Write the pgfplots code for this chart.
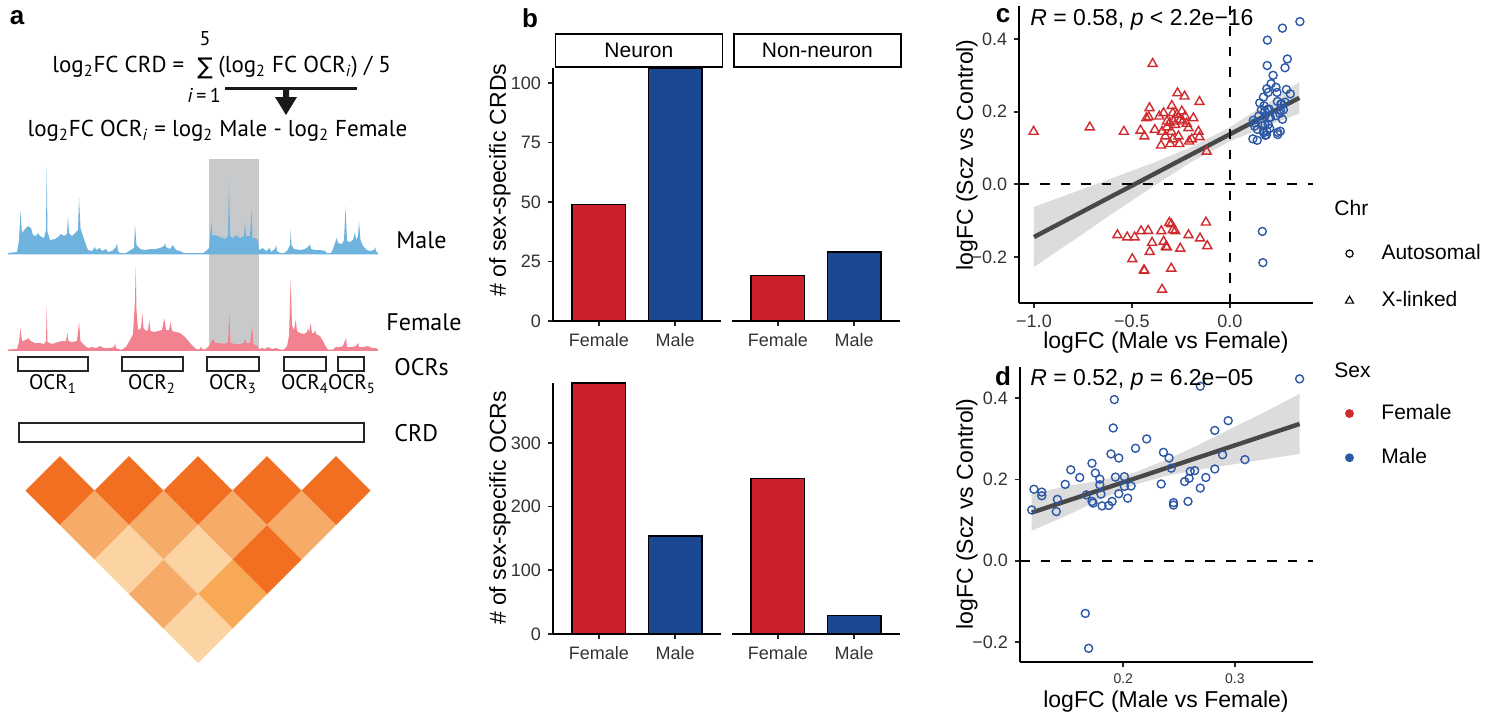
\documentclass[border=0pt]{standalone}
\usepackage{fontspec}
\setmainfont{Liberation Sans}
\newfontfamily\myriad{PT Sans}
\newfontfamily\symfont{DejaVu Sans}
\usepackage{pgfplots}
\usepackage{pgfplotstable}
\pgfplotsset{compat=1.18}

\definecolor{barred}{HTML}{C9202A}
\definecolor{barblue}{HTML}{1B4793}
\definecolor{trired}{HTML}{CF2A2E}
\definecolor{circblue}{HTML}{2C58A6}
\definecolor{trackblue}{HTML}{6DB3DD}
\definecolor{trackpink}{HTML}{F2828F}
\definecolor{shadegrey}{HTML}{C8C9CB}
\definecolor{hmdark}{HTML}{F26F21}
\definecolor{hmmid}{HTML}{F6AB68}
\definecolor{hmmidb}{HTML}{F7A956}
\definecolor{hmlight}{HTML}{FCD3A3}
\definecolor{bandgrey}{HTML}{D6D6D6}
\definecolor{fitgrey}{HTML}{484848}

\pgfplotsset{
  ggaxis/.style={
    scale only axis,
    axis x line*=bottom, axis y line*=left,
    tick align=outside, major tick length=2.5pt,
    axis line style={line width=0.9pt, black},
    tick style={line width=0.9pt, black!85},
    tick label style={font=\fontsize{9}{10}\selectfont, text=black!80},
    /pgf/number format/assume math mode=true,
    clip=false,
  },
  barpanel/.style={ggaxis, width=84pt, xmin=0.4, xmax=2.6, ymin=0,
    xtick={1,2}, xticklabels={Female,Male}},
  bars/.style={ybar, bar width=0.7, bar shift=0pt, draw=black, line width=0.6pt},
  gglegend/.style={legend style={draw=none, fill=none, anchor=north west,
    font=\fontsize{10.5}{12}\selectfont, row sep=#1,
    /tikz/every odd column/.append style={column sep=12pt}},
    legend cell align=left},
}

% autosomal OCR/CRD points (Male-biased)
\pgfplotstableread{
x y
0.118 0.125
0.120 0.176
0.127 0.169
0.127 0.160
0.140 0.121
0.141 0.151
0.148 0.188
0.153 0.224
0.161 0.205
0.167 0.162
0.172 0.240
0.172 0.146
0.173 0.142
0.175 0.216
0.179 0.201
0.179 0.187
0.180 0.164
0.181 0.135
0.187 0.136
0.189 0.263
0.190 0.146
0.191 0.327
0.192 0.397
0.193 0.206
0.196 0.253
0.196 0.165
0.201 0.207
0.201 0.183
0.204 0.154
0.207 0.184
0.211 0.277
0.221 0.300
0.234 0.189
0.236 0.267
0.241 0.253
0.243 0.228
0.245 0.143
0.245 0.137
0.255 0.195
0.258 0.146
0.259 0.203
0.260 0.220
0.264 0.222
0.269 0.179
0.269 0.430
0.274 0.205
0.282 0.321
0.282 0.226
0.289 0.261
0.294 0.345
0.309 0.249
0.358 0.448
0.166 -0.130
0.169 -0.216
}\autosomal

% X-linked points (Female-biased)
\pgfplotstableread{
x y
-1.002 0.145
-0.715 0.157
-0.541 0.145
-0.394 0.332
-0.456 0.148
-0.436 0.132
-0.410 0.210
-0.426 0.182
-0.414 0.185
-0.383 0.150
-0.360 0.187
-0.351 0.107
-0.338 0.196
-0.329 0.132
-0.321 0.173
-0.307 0.169
-0.304 0.111
-0.299 0.145
-0.291 0.196
-0.287 0.173
-0.279 0.164
-0.270 0.192
-0.267 0.251
-0.262 0.132
-0.258 0.111
-0.253 0.178
-0.245 0.201
-0.240 0.173
-0.231 0.242
-0.228 0.187
-0.220 0.167
-0.211 0.155
-0.208 0.118
-0.194 0.124
-0.186 0.182
-0.160 0.145
-0.155 0.227
-0.155 0.130
-0.118 0.090
-0.291 0.124
-0.321 0.157
-0.346 0.145
-0.296 0.216
-0.574 -0.140
-0.524 -0.146
-0.486 -0.146
-0.453 -0.129
-0.417 -0.128
-0.397 -0.161
-0.409 -0.186
-0.498 -0.206
-0.439 -0.237
-0.436 -0.238
-0.350 -0.129
-0.338 -0.158
-0.326 -0.172
-0.321 -0.174
-0.309 -0.106
-0.299 -0.110
-0.291 -0.126
-0.279 -0.129
-0.299 -0.232
-0.346 -0.290
-0.253 -0.177
-0.211 -0.140
-0.152 -0.149
-0.122 -0.105
-0.115 -0.170
}\xlinked

\begin{document}
\begin{tikzpicture}
% pixel grid of the reference, 1 px = 0.5pt
\begin{scope}[x=0.5pt,y=-0.5pt]
  \path[use as bounding box] (0,0) rectangle (1494,713);
  \coordinate (pa) at (0,0);
  \coordinate (pb1) at (553,321);
  \coordinate (pb2) at (732,321);
  \coordinate (pb3) at (553,634);
  \coordinate (pb4) at (732,634);
  \coordinate (pc) at (1019.3,303.3);
  \coordinate (pd) at (1020,661.7);
\end{scope}

%% ---- panel a: schematic, axis in pixel units
\begin{axis}[at={(pa)}, anchor=north west, scale only axis,
  width=210pt, height=356.5pt, xmin=0, xmax=420, ymin=0, ymax=713,
  y dir=reverse, axis lines=none, clip=false]
% highlighted OCR3
\addplot[fill=shadegrey, draw=none] coordinates {(209.3,159.3)(259.3,159.3)(259.3,349.3)(209.3,349.3)} -- cycle;
% male track
\addplot[fill=trackblue, draw=none] coordinates {
(8,253)(17,252)(19,240)(20.5,211)(22,233)(25,229)(28,226)(31,228)(33,235)(36,236)(38,233)(40,236)(44,238)(46,230)(46.7,167)(47.5,232)(50,240)(55,239)(58,237)(61,234)(64,236)(67,234)(68,216)(69,233)(72,236)(75,233)(78,230)(79,198)(80.5,228)(83,236)(86,245)(88,250)(92,251)(95,247)(96,250)(100,248)(102,251)(106,249)(108,252)(112,251)(116,247)(117,243)(118,251)(120,253)
(126,253)(129,251)(134,248)(135,225)(136.5,245)(140,249)(145,250)(150,249)(155,249)(160,248)(164,246)(165,243)(166,247)(170,249)(173,245)(174,247)(176,250)(180,251)(184,253)
(203,253)(206,251)(209,248)(210,236)(211.5,222)(212.5,236)(215,235)(220,237)(225,239)(228,236)(229,183)(230.2,236)(233,238)(236,235)(240,238)(244,236)(245,222)(246,236)(250,236)(251.5,210)(252.5,238)(255,238)(258,240)(259,250)(263,248)(266,251)(270,248)(271,252)(275,249)(276,245)(277,251)(280,253)
(284,253)(287,251)(290,245)(290.7,230)(291.5,245)(294,249)(300,250)(305,249)(309,246)(310,244)(311,249)(315,250)(320,250)(325,251)(327,253)
(331,253)(333,249)(335,243)(336.7,238)(338,243)(342,244)(344,240)(345.5,207)(347,241)(350,242)(353,240)(355,232)(356,240)(358,236)(359,222)(360.5,240)(363,246)(367,250)(370,251)(374,250)(375,247)(376,251)(378,253)
(378,254.3)(8,254.3)} -- cycle;
% female track
\addplot[fill=trackpink, draw=none] coordinates {
(8,349.5)(17,349)(19,342)(20.5,328)(22,341)(26,340)(28,338)(31,341)(35,343)(40,343)(44,344)(46,341)(46.7,307)(47.5,342)(52,344)(58,342)(62,341)(66,341)(67.5,333)(68.5,341)(72,342)(77,341)(79,322)(80.5,341)(84,345)(88,348)(92,347)(96,348)(100,346)(104,348)(110,348)(114,347)(115,343)(116,348)(120,349.5)
(122,349.5)(126,347)(130,340)(133,334)(135,300)(135.7,267)(136.5,310)(138,330)(141,328)(142.3,313)(143.5,328)(146,331)(148,330)(149.3,320)(150.5,331)(154,332)(158,331)(162,330)(164.3,318)(166,330)(169,330)(170.7,322)(172,331)(176,332)(180,333)(185,337)(190,343)(194,347)(197,349.5)(200,349)(201,346)(202,349)
(205,349.5)(209,346)(211,342)(213.3,339)(215,343)(220,343)(225,344)(228,342)(229.3,313)(230.5,343)(235,344)(240,344)(244,343)(245,338)(246,343)(250,343)(252.3,327)(253.5,344)(257,346)(259,349)(262,348)(265,349)(268,347)(272,349)(276,348)(280,349.5)
(284,349.5)(287,346)(289,336)(290.7,280)(292,325)(294,330)(295.7,320)(297,331)(300,333)(304,334)(307,332)(308,328)(309,333)(310.7,323)(312,333)(314,333)(315,330)(316,334)(320,336)(323,341)(326,347)(328,349.5)
(333,349.5)(336,347)(340,347)(343,346)(346,338)(347,347)(352,347)(356,346)(358,343)(359,347)(364,347)(368,346)(372,348)(376,348)(378,349.5)
(378,350.8)(8,350.8)} -- cycle;
% OCR boxes and CRD box
\addplot[draw=black!85, line width=1pt] coordinates {(18.3,357.3)(87.7,357.3)(87.7,371)(18.3,371)} -- cycle;
\addplot[draw=black!85, line width=1pt] coordinates {(122.3,357.3)(182.7,357.3)(182.7,371)(122.3,371)} -- cycle;
\addplot[draw=black!85, line width=1pt] coordinates {(207.3,357.3)(259.3,357.3)(259.3,371)(207.3,371)} -- cycle;
\addplot[draw=black!85, line width=1pt] coordinates {(284,357.3)(326,357.3)(326,371)(284,371)} -- cycle;
\addplot[draw=black!85, line width=1pt] coordinates {(337.7,357.3)(364,357.3)(364,371)(337.7,371)} -- cycle;
\addplot[draw=black!85, line width=1pt] coordinates {(19,423.3)(364,423.3)(364,442.3)(19,442.3)} -- cycle;
% formula bar and arrow
\addplot[draw=black!90, line width=1.5pt] coordinates {(225,88.3)(357,88.3)};
\addplot[fill=black!90, draw=none] coordinates {(283,89)(289,89)(289,97)(297,97)(286,115)(275,97)(283,97)} -- cycle;
% interaction heatmap (diamonds)
\addplot[fill=hmdark, draw=none] coordinates {(25.5,490.5)(60,456)(94.5,490.5)(60,525)} -- cycle;
\addplot[fill=hmdark, draw=none] coordinates {(94.5,490.5)(129,456)(163.5,490.5)(129,525)} -- cycle;
\addplot[fill=hmdark, draw=none] coordinates {(163.5,490.5)(198,456)(232.5,490.5)(198,525)} -- cycle;
\addplot[fill=hmdark, draw=none] coordinates {(232.5,490.5)(267,456)(301.5,490.5)(267,525)} -- cycle;
\addplot[fill=hmdark, draw=none] coordinates {(301.5,490.5)(336,456)(370.5,490.5)(336,525)} -- cycle;
\addplot[fill=hmmid, draw=none] coordinates {(60,525)(94.5,490.5)(129,525)(94.5,559.5)} -- cycle;
\addplot[fill=hmmid, draw=none] coordinates {(129,525)(163.5,490.5)(198,525)(163.5,559.5)} -- cycle;
\addplot[fill=hmmid, draw=none] coordinates {(198,525)(232.5,490.5)(267,525)(232.5,559.5)} -- cycle;
\addplot[fill=hmmid, draw=none] coordinates {(267,525)(301.5,490.5)(336,525)(301.5,559.5)} -- cycle;
\addplot[fill=hmlight, draw=none] coordinates {(94.5,559.5)(129,525)(163.5,559.5)(129,594)} -- cycle;
\addplot[fill=hmlight, draw=none] coordinates {(163.5,559.5)(198,525)(232.5,559.5)(198,594)} -- cycle;
\addplot[fill=hmdark, draw=none] coordinates {(232.5,559.5)(267,525)(301.5,559.5)(267,594)} -- cycle;
\addplot[fill=hmmid, draw=none] coordinates {(129,594)(163.5,559.5)(198,594)(163.5,628.5)} -- cycle;
\addplot[fill=hmmidb, draw=none] coordinates {(198,594)(232.5,559.5)(267,594)(232.5,628.5)} -- cycle;
\addplot[fill=hmlight, draw=none] coordinates {(163.5,628.5)(198,594)(232.5,628.5)(198,663)} -- cycle;
\end{axis}

%% ---- panel b: counts
\begin{axis}[barpanel, at={(pb1)}, anchor=south west, height=126.5pt,
  ymax=106.3, ytick={0,25,50,75,100}]
\addplot[bars, fill=barred] coordinates {(1,49)};
\addplot[bars, fill=barblue] coordinates {(2,106.3)};
\end{axis}
\begin{axis}[barpanel, at={(pb2)}, anchor=south west, height=126.5pt,
  ymax=106.3, axis y line=none, ytick=\empty]
\addplot[bars, fill=barred] coordinates {(1,19)};
\addplot[bars, fill=barblue] coordinates {(2,29)};
\end{axis}
\begin{axis}[barpanel, at={(pb3)}, anchor=south west, height=125.5pt,
  ymax=394, ytick={0,100,200,300}]
\addplot[bars, fill=barred] coordinates {(1,394)};
\addplot[bars, fill=barblue] coordinates {(2,154)};
\end{axis}
\begin{axis}[barpanel, at={(pb4)}, anchor=south west, height=125.5pt,
  ymax=394, axis y line=none, ytick=\empty]
\addplot[bars, fill=barred] coordinates {(1,244)};
\addplot[bars, fill=barblue] coordinates {(2,29)};
\end{axis}

%% ---- panel c: all sex-biased CRDs
\begin{axis}[ggaxis, at={(pc)}, anchor=south west, width=146.85pt, height=148.65pt,
  xmin=-1.075, xmax=0.425, ymin=-0.328, ymax=0.491,
  xtick={-1,-0.5,0}, xticklabels={−1.0,−0.5,0.0},
  ytick={-0.2,0,0.2,0.4}, yticklabels={−0.2,0.0,0.2,0.4},
  gglegend=10.5pt, legend style={at={(axis description cs:1.089,0.226)}}]
\addplot[only marks, mark=o, mark size=2pt, circblue, line width=0.7pt, forget plot] table {\autosomal};
\addplot[only marks, mark=triangle, mark size=2.6pt, trired, line width=0.7pt, forget plot] table {\xlinked};
\addplot[fill=bandgrey, draw=none, fill opacity=0.85, forget plot] coordinates {
(-1.0,-0.062)(-0.8,-0.023)(-0.6,0.017)(-0.4,0.057)(-0.2,0.1015)(0.0,0.157)(0.2,0.2255)(0.355,0.2815)
(0.355,0.1945)(0.2,0.1625)(0.0,0.118)(-0.2,0.0605)(-0.4,-0.009)(-0.6,-0.081)(-0.8,-0.155)(-1.0,-0.228)} -- cycle;
\addplot[fitgrey, line width=2.2pt, forget plot] coordinates {(-1.0,-0.1454)(0.355,0.238)};
\addplot[black, line width=1pt, dash pattern=on 4.8pt off 5.5pt, forget plot] coordinates {(0,-0.328)(0,0.491)};
\addplot[black, line width=1pt, dash pattern=on 4.8pt off 5.5pt, forget plot] coordinates {(-1.075,0)(0.425,0)};
\addlegendimage{only marks, mark=o, mark size=1.8pt, black, line width=0.6pt}
\addlegendentry{Autosomal}
\addlegendimage{only marks, mark=triangle, mark size=2.3pt, black, line width=0.6pt}
\addlegendentry{X-linked}
\end{axis}

%% ---- panel d: autosomal CRDs
\begin{axis}[ggaxis, at={(pd)}, anchor=south west, width=146.5pt, height=147.5pt,
  xmin=0.1075, xmax=0.37, ymin=-0.249, ymax=0.478,
  xtick={0.2,0.3}, xticklabels={0.2,0.3},
  x tick label style={font=\fontsize{7}{8}\selectfont},
  ytick={-0.2,0,0.2,0.4}, yticklabels={−0.2,0.0,0.2,0.4},
  gglegend=9pt, legend style={at={(axis description cs:1.089,0.9007)}}]
\addplot[only marks, mark=o, mark size=2pt, circblue, line width=0.7pt, forget plot] table {\autosomal};
\addplot[fill=bandgrey, draw=none, fill opacity=0.85, forget plot] coordinates {
(0.118,0.164)(0.15,0.184)(0.18,0.198)(0.21,0.217)(0.24,0.250)(0.27,0.289)(0.30,0.330)(0.33,0.371)(0.358,0.411)
(0.358,0.263)(0.33,0.251)(0.30,0.238)(0.27,0.225)(0.24,0.210)(0.21,0.187)(0.18,0.152)(0.15,0.112)(0.118,0.074)} -- cycle;
\addplot[fitgrey, line width=2.2pt, forget plot] coordinates {(0.118,0.1185)(0.358,0.337)};
\addplot[black, line width=1pt, dash pattern=on 4.8pt off 5.5pt, forget plot] coordinates {(0.1075,0)(0.37,0)};
\addlegendimage{only marks, mark=*, mark size=2pt, trired, draw=trired}
\addlegendentry{Female}
\addlegendimage{only marks, mark=*, mark size=2pt, circblue, draw=circblue}
\addlegendentry{Male}
\end{axis}

%% ---- text in pixel coordinates
\begin{scope}[x=0.5pt,y=-0.5pt]
  \tikzset{plab/.style={font=\fontsize{13}{14}\selectfont\bfseries}}
  \node[plab] at (17,18) {a};
  \node[plab] at (530,18) {b};
  \node[plab] at (1003,16) {c};
  \node[plab] at (1003,376) {d};
  % panel a text
  \begin{scope}[every node/.style={font=\myriad\fontsize{11.5}{13}\selectfont, inner sep=0pt}]
    \node[anchor=west] at (52,67) {log\textsubscript{2}FC CRD =};
    \node at (205,68) {\symfont ∑};
    \node[font=\myriad\fontsize{10}{11}\selectfont] at (205,39) {5};
    \node[font=\myriad\fontsize{10}{11}\selectfont] at (204,95) {\textit{i}\,=\,1};
    \node[anchor=west] at (218,67) {(log\textsubscript{2} FC OCR\textsubscript{\textit{i}}) / 5};
    \node at (217.5,131) {log\textsubscript{2}FC OCR\textsubscript{\textit{i}} = log\textsubscript{2} Male - log\textsubscript{2} Female};
  \end{scope}
  \begin{scope}[every node/.style={font=\myriad\fontsize{12}{13}\selectfont, inner sep=0pt, anchor=west}]
    \node at (396,240) {Male};
    \node at (386,322) {Female};
    \node at (394,367) {OCRs};
    \node at (394,433) {CRD};
  \end{scope}
  \begin{scope}[every node/.style={font=\myriad\fontsize{10.5}{12}\selectfont, inner sep=0pt}]
    \node at (53,384) {OCR\textsubscript{1}};
    \node at (152,384) {OCR\textsubscript{2}};
    \node at (233,384) {OCR\textsubscript{3}};
    \node at (305,384) {OCR\textsubscript{4}};
    \node at (352,384) {OCR\textsubscript{5}};
  \end{scope}
  % panel b text
  \node[draw=black, line width=0.9pt, fill=white, minimum width=83.5pt, minimum height=16.5pt,
    inner sep=0pt, anchor=south west, font=\fontsize{10.5}{12}\selectfont] at (554.5,68) {Neuron};
  \node[draw=black, line width=0.9pt, fill=white, minimum width=83.5pt, minimum height=16.5pt,
    inner sep=0pt, anchor=south west, font=\fontsize{10.5}{12}\selectfont] at (733,68) {Non-neuron};
  \node[rotate=90, font=\fontsize{11.5}{13}\selectfont] at (500,180) {\# of sex-specific CRDs};
  \node[rotate=90, font=\fontsize{11.5}{13}\selectfont] at (500,508) {\# of sex-specific OCRs};
  % panel c, d text
  \node[rotate=90, font=\fontsize{11.5}{13}\selectfont] at (967,155) {logFC (Scz vs Control)};
  \node[rotate=90, font=\fontsize{11.5}{13}\selectfont] at (967,514) {logFC (Scz vs Control)};
  \node[font=\fontsize{11.5}{13}\selectfont] at (1166,343) {logFC (Male vs Female)};
  \node[font=\fontsize{11.5}{13}\selectfont] at (1166,702) {logFC (Male vs Female)};
  \node[anchor=west, inner sep=0pt, font=\fontsize{11.5}{13}\selectfont] at (1030,20) {\textit{R} = 0.58, \textit{p} < 2.2e−16};
  \node[anchor=west, inner sep=0pt, font=\fontsize{11.5}{13}\selectfont] at (1030,380) {\textit{R} = 0.52, \textit{p} = 6.2e−05};
  % legend titles
  \node[anchor=west, inner sep=0pt, font=\fontsize{10.5}{12}\selectfont] at (1334,208) {Chr};
  \node[anchor=west, inner sep=0pt, font=\fontsize{10.5}{12}\selectfont] at (1334,370) {Sex};
\end{scope}
\end{tikzpicture}
\end{document}
